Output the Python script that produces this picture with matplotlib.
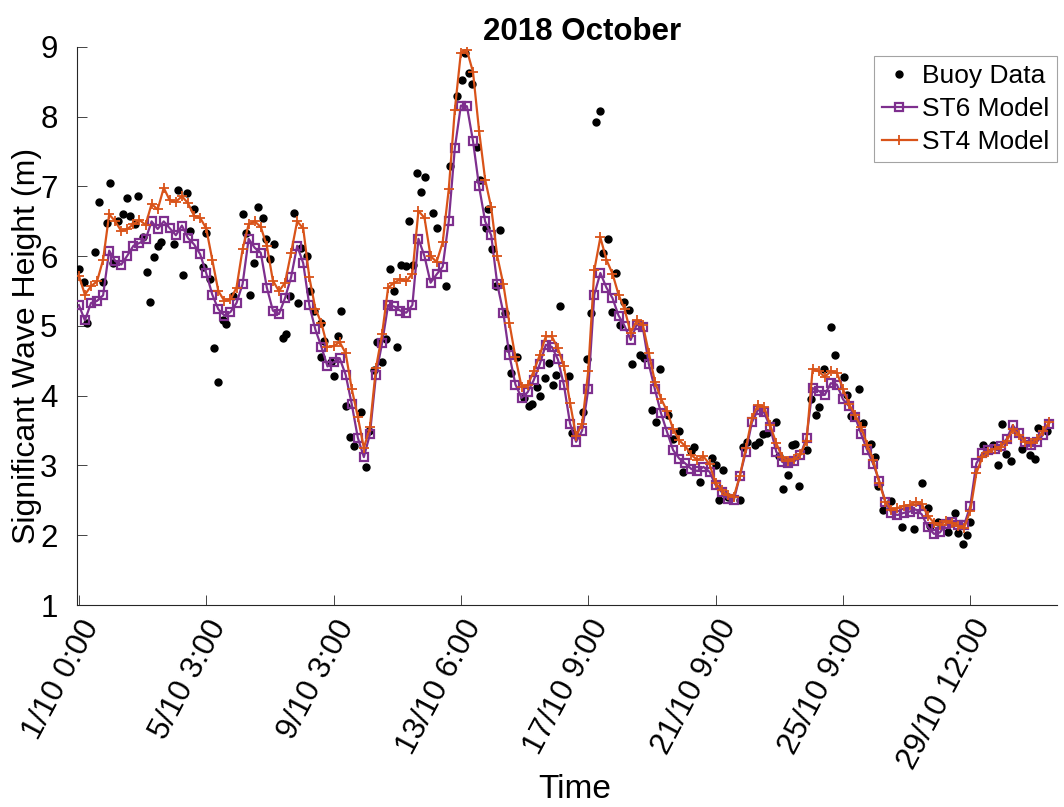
import matplotlib
matplotlib.use("Agg")
import matplotlib.pyplot as plt

plt.rcParams['font.family'] = ['Liberation Sans', 'DejaVu Sans']

# Model output, one value per time step
st6_model = [
    5.30, 5.08, 5.33, 5.36, 5.44, 6.08, 5.93, 5.88, 6.01, 6.15,
    6.19, 6.24, 6.50, 6.39, 6.50, 6.40, 6.30, 6.44, 6.26, 6.17,
    6.03, 5.76, 5.45, 5.24, 5.15, 5.20, 5.33, 5.60, 6.25, 6.12,
    6.05, 5.55, 5.22, 5.17, 5.40, 5.70, 6.15, 5.90, 5.30, 4.95,
    4.70, 4.42, 4.48, 4.54, 4.30, 3.88, 3.40, 3.12, 3.45, 4.30,
    4.75, 5.30, 5.28, 5.22, 5.19, 5.30, 6.25, 6.00, 5.62, 5.74,
    5.85, 6.50, 7.55, 8.16, 8.15, 7.65, 7.00, 6.50, 6.30, 5.60,
    5.19, 4.58, 4.16, 3.97, 4.05, 4.22, 4.45, 4.73, 4.70, 4.52,
    4.15, 3.60, 3.34, 3.50, 4.09, 5.45, 5.76, 5.55, 5.40, 5.15,
    5.00, 4.80, 5.02, 4.98, 4.45, 4.09, 3.75, 3.48, 3.22, 3.10,
    3.03, 2.95, 2.92, 2.98, 2.91, 2.72, 2.62, 2.52, 2.50, 2.85,
    3.20, 3.62, 3.80, 3.76, 3.55, 3.20, 3.05, 3.03, 3.06, 3.15,
    3.40, 4.11, 4.07, 4.01, 4.18, 4.16, 3.95, 3.85, 3.70, 3.45,
    3.22, 3.02, 2.78, 2.48, 2.32, 2.29, 2.32, 2.34, 2.37, 2.30,
    2.12, 2.02, 2.04, 2.16, 2.19, 2.14, 2.15, 2.42, 3.03, 3.18,
    3.22, 3.24, 3.28, 3.38, 3.58, 3.46, 3.34, 3.30, 3.34, 3.44,
    3.60,
]

st4_model = [
    5.72, 5.45, 5.57, 5.64, 5.95, 6.60, 6.50, 6.36, 6.39, 6.46,
    6.52, 6.45, 6.75, 6.67, 6.98, 6.80, 6.78, 6.86, 6.76, 6.58,
    6.55, 6.40, 5.95, 5.50, 5.36, 5.38, 5.55, 6.10, 6.46, 6.50,
    6.42, 6.15, 5.65, 5.50, 5.62, 6.05, 6.50, 6.40, 5.70, 5.25,
    5.04, 4.70, 4.71, 4.77, 4.61, 4.10, 3.70, 3.25, 3.55, 4.40,
    4.88, 5.55, 5.62, 5.67, 5.64, 5.75, 6.65, 6.55, 6.00, 5.92,
    6.20, 6.96, 8.10, 8.92, 8.95, 8.64, 7.80, 7.10, 6.70, 6.00,
    5.60, 5.04, 4.55, 4.13, 4.15, 4.35, 4.58, 4.85, 4.85, 4.68,
    4.42, 3.90, 3.42, 3.60, 4.35, 5.80, 6.27, 5.95, 5.75, 5.45,
    5.24, 4.90, 5.08, 5.02, 4.61, 4.20, 3.96, 3.78, 3.52, 3.36,
    3.28, 3.15, 3.08, 3.13, 3.02, 2.75, 2.65, 2.57, 2.55, 2.85,
    3.25, 3.68, 3.87, 3.84, 3.58, 3.32, 3.12, 3.06, 3.10, 3.16,
    3.35, 4.38, 4.35, 4.27, 4.35, 4.33, 4.10, 3.88, 3.73, 3.55,
    3.30, 3.08, 2.75, 2.48, 2.36, 2.39, 2.42, 2.43, 2.48, 2.45,
    2.28, 2.18, 2.15, 2.20, 2.18, 2.13, 2.11, 2.35, 2.89, 3.12,
    3.20, 3.24, 3.27, 3.35, 3.52, 3.44, 3.34, 3.32, 3.38, 3.49,
    3.62,
]

# Buoy observations: position on the model time-step axis and wave height (m)
buoy_step = [
    0.0, 0.8, 1.3, 2.6, 3.3, 3.9, 4.6, 5.2, 5.7, 6.5,
    7.2, 7.9, 8.5, 9.2, 9.8, 10.5, 11.2, 11.7, 12.4, 13.1,
    13.6, 15.7, 16.4, 17.1, 17.8, 18.3, 19.0, 20.4, 20.9, 21.6,
    22.3, 22.9, 23.7, 24.2, 25.5, 27.0, 27.5, 28.2, 28.9, 29.5,
    30.3, 30.8, 31.6, 32.2, 33.6, 34.1, 34.9, 36.1, 35.5, 36.6,
    37.6, 38.1, 38.8, 39.9, 40.4, 40.0, 41.5, 42.0, 42.7, 43.3,
    44.0, 44.7, 45.4, 46.6, 47.8, 47.3, 48.6, 49.2, 50.0, 50.6,
    51.3, 51.9, 52.5, 53.2, 53.9, 55.1, 54.4, 55.8, 57.0, 56.5,
    58.4, 59.1, 60.5, 61.2, 62.4, 63.2, 64.3, 64.9, 63.6, 65.6,
    66.2, 67.1, 67.4, 68.2, 69.5, 68.8, 70.2, 70.7, 72.3, 71.3,
    73.4, 74.2, 74.7, 75.5, 76.1, 76.8, 77.5, 78.2, 78.7, 79.4,
    80.8, 81.3, 83.2, 83.8, 84.5, 85.3, 85.9, 86.5, 87.2, 87.9,
    88.6, 89.3, 89.9, 90.7, 91.2, 92.6, 93.2, 94.5, 95.2, 95.8,
    97.1, 97.9, 98.9, 99.6, 101.0, 101.4, 102.4, 104.4, 105.0, 105.6,
    106.3, 107.1, 109.1, 109.6, 110.2, 111.5, 112.2, 112.9, 113.5, 115.0,
    115.4, 116.2, 116.9, 117.6, 118.1, 118.8, 120.1, 120.7, 121.6, 122.1,
    122.8, 124.0, 124.7, 126.1, 126.7, 127.3, 128.7, 129.3, 130.6, 131.3,
    131.8, 132.6, 133.9, 135.8, 137.7, 139.1, 140.0, 140.3, 141.7, 143.4,
    144.5, 145.0, 145.8, 146.4, 147.0, 149.1, 150.8, 151.6, 152.3, 152.9,
    153.7, 155.5, 156.8, 157.7, 158.2, 159.6,
]
buoy_height = [
    5.82, 5.63, 5.04, 6.06, 6.78, 5.63, 6.48, 7.05, 5.91, 6.50,
    6.60, 6.83, 6.58, 6.46, 6.87, 6.27, 5.77, 5.35, 5.99, 6.15,
    6.20, 6.18, 6.95, 5.73, 6.91, 6.36, 6.67, 5.85, 6.33, 5.67,
    4.68, 4.20, 5.09, 5.03, 5.43, 6.60, 6.34, 5.45, 5.90, 6.70,
    6.55, 6.24, 5.96, 6.17, 4.83, 4.88, 5.43, 5.33, 6.62, 6.12,
    6.00, 5.50, 5.21, 5.04, 4.78, 4.56, 4.49, 4.28, 4.86, 5.21,
    3.86, 3.41, 3.28, 3.77, 3.49, 2.98, 4.37, 4.77, 4.48, 4.81,
    5.82, 5.50, 4.70, 5.88, 5.86, 5.88, 6.50, 7.20, 7.14, 6.92,
    6.62, 6.40, 5.57, 7.30, 8.30, 8.53, 8.62, 8.47, 8.91, 7.57,
    7.10, 6.41, 6.67, 6.10, 6.37, 5.57, 5.19, 4.69, 4.56, 4.33,
    3.97, 3.86, 3.88, 4.13, 3.99, 4.25, 4.47, 4.16, 4.30, 5.28,
    4.28, 3.46, 3.77, 4.52, 5.19, 7.92, 8.08, 6.05, 6.24, 5.20,
    5.76, 5.02, 5.35, 5.23, 4.46, 4.59, 4.54, 3.80, 3.63, 4.38,
    3.73, 3.38, 3.49, 2.90, 3.21, 3.27, 2.77, 3.11, 3.01, 2.50,
    2.93, 2.55, 2.51, 3.27, 3.34, 3.30, 3.33, 3.45, 3.46, 3.63,
    3.13, 2.67, 2.87, 3.30, 3.31, 2.71, 3.22, 3.95, 3.73, 3.84,
    4.39, 4.99, 4.58, 4.27, 4.01, 3.71, 4.10, 3.61, 3.31, 3.12,
    2.70, 2.36, 2.49, 2.12, 2.09, 2.75, 2.39, 2.13, 2.19, 2.05,
    2.32, 2.03, 1.87, 2.00, 2.19, 3.29, 3.30, 3.00, 3.60, 3.17,
    3.07, 3.23, 3.15, 3.09, 3.54, 3.49,
]

tick_labels = ['1/10 0:00', '5/10 3:00', '9/10 3:00', '13/10 6:00',
               '17/10 9:00', '21/10 9:00', '25/10 9:00', '29/10 12:00']
tick_every = 21

purple = '#7E2F8E'
orange = '#D95319'
axis_grey = '#262626'

steps = list(range(len(st6_model)))

fig = plt.figure(figsize=(10.64, 8.07), dpi=100)
ax = fig.add_axes([0.0724, 0.2503, 0.9210, 0.6915])

ax.plot(buoy_step, buoy_height, linestyle='none', marker='o', color='black',
        markersize=5, label='Buoy Data', zorder=3)
ax.plot(steps, st6_model, color=purple, linewidth=1.6, marker='s',
        markersize=5.5, markerfacecolor='none', markeredgewidth=1.6,
        label='ST6 Model', zorder=4)
ax.plot(steps, st4_model, color=orange, linewidth=1.6, marker='+',
        markersize=6.5, markeredgewidth=1.3, label='ST4 Model', zorder=5)

ax.set_xlim(-0.3, 161.3)
ax.set_ylim(1, 9)
ax.set_yticks(range(1, 10))
ax.set_xticks([i * tick_every for i in range(len(tick_labels))])
ax.set_xticklabels(tick_labels, rotation=62, ha='right', va='top',
                   rotation_mode='anchor')

for side in ('top', 'right'):
    ax.spines[side].set_visible(False)
for side in ('left', 'bottom'):
    ax.spines[side].set_color(axis_grey)
    ax.spines[side].set_linewidth(0.8)

ax.tick_params(direction='in', length=7, width=0.6, color=axis_grey,
               labelsize=22.5, labelcolor='black')
ax.tick_params(axis='x', pad=7)
ax.tick_params(axis='y', pad=14)

ax.set_title('2018 October', fontsize=22.5, fontweight='bold', pad=4, x=0.515)
ax.set_xlabel('Time', fontsize=24)
ax.set_ylabel('Significant Wave Height (m)', fontsize=23)
ax.xaxis.set_label_coords(0.508, -0.302)
ax.yaxis.set_label_coords(-0.036, 0.465)

leg = ax.legend(loc='upper right', bbox_to_anchor=(1.0, 0.983), fontsize=19,
                frameon=True, fancybox=False, handlelength=1.3,
                handletextpad=0.2, borderpad=0.3, labelspacing=0.33,
                borderaxespad=0.0)
leg.get_frame().set_edgecolor('#8c8c8c')
leg.get_frame().set_linewidth(0.8)

fig.savefig('out.png', dpi=100)
